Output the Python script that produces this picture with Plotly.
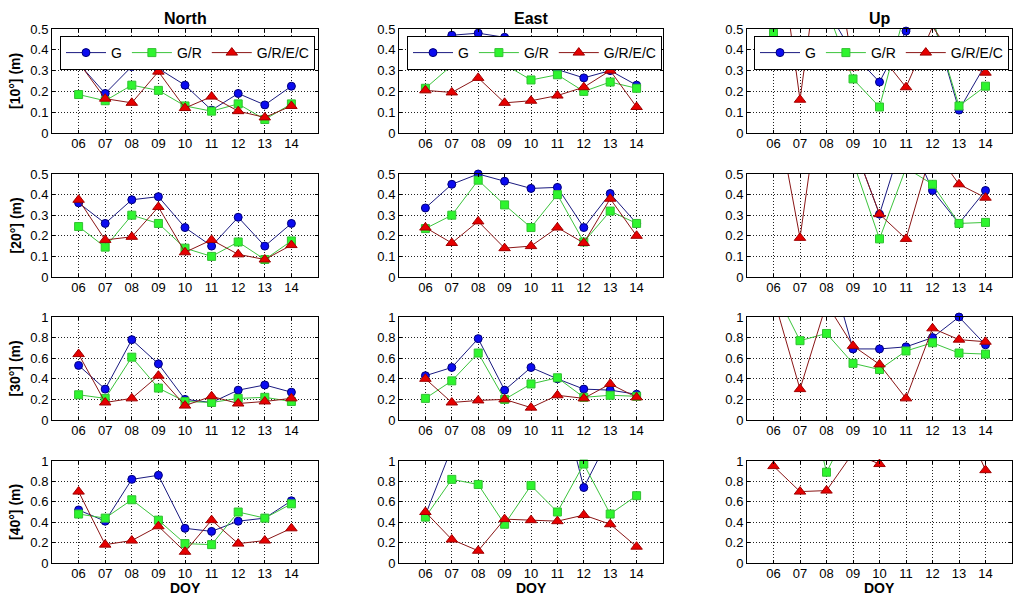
import plotly.graph_objects as go

# ---------------- data ----------------
doy = [6, 7, 8, 9, 10, 11, 12, 13, 14]
doy_labels = ["06", "07", "08", "09", "10", "11", "12", "13", "14"]
series_names = ["G", "G/R", "G/R/E/C"]
col_titles = ["North", "East", "Up"]
row_labels = ["[10°] (m)", "[20°] (m)", "[30°] (m)", "[40°] (m)"]
row_ymax = [0.5, 0.5, 1.0, 1.0]
row_dtick = [0.1, 0.1, 0.2, 0.2]

north_10_G = [0.335, 0.19, 0.32, 0.31, 0.23, 0.11, 0.19, 0.135, 0.225]
north_10_GR = [0.185, 0.155, 0.23, 0.205, 0.13, 0.105, 0.14, 0.065, 0.14]
north_10_GREC = [0.34, 0.165, 0.145, 0.295, 0.12, 0.175, 0.105, 0.075, 0.13]

east_10_G = [0.325, 0.47, 0.48, 0.46, 0.42, 0.305, 0.265, 0.30, 0.23]
east_10_GR = [0.215, 0.325, 0.42, 0.33, 0.255, 0.28, 0.20, 0.245, 0.215]
east_10_GREC = [0.205, 0.195, 0.265, 0.145, 0.155, 0.18, 0.22, 0.30, 0.125]

up_10_G = [0.6, 0.7, 0.6, 0.38, 0.245, 0.49, 0.55, 0.11, 0.33]
up_10_GR = [0.48, 0.75, 0.6, 0.26, 0.125, 0.6, 0.55, 0.13, 0.225]
up_10_GREC = [1.1, 0.16, 1.1, 0.315, 0.38, 0.22, 0.51, 0.335, 0.29]

north_20_G = [0.36, 0.26, 0.375, 0.39, 0.24, 0.15, 0.29, 0.15, 0.26]
north_20_GR = [0.245, 0.145, 0.30, 0.26, 0.14, 0.10, 0.17, 0.085, 0.175]
north_20_GREC = [0.375, 0.18, 0.195, 0.34, 0.12, 0.18, 0.11, 0.085, 0.155]

east_20_G = [0.335, 0.45, 0.50, 0.465, 0.43, 0.435, 0.24, 0.405, 0.26]
east_20_GR = [0.235, 0.30, 0.47, 0.35, 0.24, 0.40, 0.17, 0.32, 0.26]
east_20_GREC = [0.24, 0.165, 0.27, 0.14, 0.15, 0.24, 0.165, 0.38, 0.20]

up_20_G = [0.8, 0.9, 0.8, 0.65, 0.305, 0.715, 0.42, 0.26, 0.42]
up_20_GR = [0.8, 0.9, 0.8, 0.56, 0.185, 0.53, 0.45, 0.26, 0.265]
up_20_GREC = [0.88, 0.19, 1.1, 0.65, 0.305, 0.185, 0.63, 0.45, 0.385]

north_30_G = [0.53, 0.30, 0.78, 0.545, 0.20, 0.17, 0.29, 0.34, 0.27]
north_30_GR = [0.245, 0.21, 0.61, 0.31, 0.18, 0.17, 0.21, 0.22, 0.18]
north_30_GREC = [0.64, 0.17, 0.21, 0.43, 0.14, 0.23, 0.16, 0.18, 0.21]

east_30_G = [0.43, 0.51, 0.79, 0.29, 0.51, 0.40, 0.30, 0.29, 0.25]
east_30_GR = [0.21, 0.38, 0.65, 0.20, 0.35, 0.41, 0.22, 0.24, 0.23]
east_30_GREC = [0.40, 0.17, 0.19, 0.20, 0.12, 0.24, 0.21, 0.35, 0.22]

up_30_G = [1.3, 1.4, 1.6, 0.69, 0.69, 0.71, 0.80, 1.0, 0.73]
up_30_GR = [1.28, 0.77, 0.84, 0.55, 0.49, 0.67, 0.75, 0.65, 0.64]
up_30_GREC = [1.19, 0.30, 1.13, 0.72, 0.54, 0.21, 0.89, 0.78, 0.76]

north_40_G = [0.52, 0.41, 0.82, 0.86, 0.34, 0.31, 0.41, 0.44, 0.61]
north_40_GR = [0.48, 0.44, 0.62, 0.42, 0.19, 0.18, 0.50, 0.44, 0.58]
north_40_GREC = [0.70, 0.18, 0.22, 0.36, 0.11, 0.42, 0.19, 0.22, 0.34]

east_40_G = [0.47, 1.13, 1.3, 1.4, 1.5, 1.75, 0.74, 1.25, 1.2]
east_40_GR = [0.45, 0.82, 0.77, 0.38, 0.76, 0.50, 0.97, 0.48, 0.66]
east_40_GREC = [0.50, 0.23, 0.12, 0.43, 0.42, 0.41, 0.47, 0.38, 0.16]

up_40_G = [1.5, 1.3, 1.4, 1.6, 1.5, 1.7, 1.5, 1.4, 1.3]
up_40_GR = [1.5, 2.0, 0.89, 1.4, 1.5, 1.6, 1.5, 1.4, 1.3]
up_40_GREC = [0.95, 0.70, 0.71, 1.08, 0.97, 1.6, 1.4, 1.5, 0.91]

panels = [
    [(north_10_G, north_10_GR, north_10_GREC), (east_10_G, east_10_GR, east_10_GREC), (up_10_G, up_10_GR, up_10_GREC)],
    [(north_20_G, north_20_GR, north_20_GREC), (east_20_G, east_20_GR, east_20_GREC), (up_20_G, up_20_GR, up_20_GREC)],
    [(north_30_G, north_30_GR, north_30_GREC), (east_30_G, east_30_GR, east_30_GREC), (up_30_G, up_30_GR, up_30_GREC)],
    [(north_40_G, north_40_GR, north_40_GREC), (east_40_G, east_40_GR, east_40_GREC), (up_40_G, up_40_GR, up_40_GREC)],
]

# ---------------- layout geometry (screen pixels; the page body adds an 8px offset) ----------------
OFF = 8
W, H = 1023 - OFF, 605 - 2 * OFF
FONT = "Liberation Sans, Arial, sans-serif"
col_px = [(52, 318), (399, 663), (747, 1012)]
row_px = [(29, 133), (174, 277), (317, 420), (461, 563)]
legend_x_px = [60, 407, 754]
legend_y_px = 36


def fx(px):
    return (px - OFF) / W


def fy(py):
    return 1 - (py - OFF) / H


styles = [
    dict(line="#1a1a80", fill="#0b0bf0", edge="#00007a", symbol="circle", size=8),
    dict(line="#3cc43c", fill="#2ef52e", edge="#33c033", symbol="square", size=8),
    dict(line="#8a1616", fill="#e60000", edge="#a00000", symbol="triangle-up", size=10),
]

fig = go.Figure()
legend_ids = ["legend", "legend2", "legend3"]

for r in range(4):
    for c in range(3):
        k = r * 3 + c + 1
        xa = "x" if k == 1 else f"x{k}"
        ya = "y" if k == 1 else f"y{k}"
        for s, vals in enumerate(panels[r][c]):
            st = styles[s]
            fig.add_trace(go.Scatter(
                x=doy, y=vals, mode="lines+markers", name=series_names[s],
                xaxis=xa, yaxis=ya, cliponaxis=False,
                line=dict(color=st["line"], width=1),
                marker=dict(symbol=st["symbol"], size=st["size"], color=st["fill"],
                            line=dict(color=st["edge"], width=1)),
                showlegend=(r == 0), legend=legend_ids[c] if r == 0 else None,
                hoverinfo="skip",
            ))

layout = dict(
    width=W, height=H, margin=dict(l=0, r=0, t=0, b=0, autoexpand=False),
    paper_bgcolor="white", plot_bgcolor="white",
    font=dict(family=FONT, size=13, color="black"),
    showlegend=True,
)

for r in range(4):
    for c in range(3):
        k = r * 3 + c + 1
        x0, x1 = col_px[c]
        y0, y1 = row_px[r]
        xkey = "xaxis" if k == 1 else f"xaxis{k}"
        ykey = "yaxis" if k == 1 else f"yaxis{k}"
        common = dict(
            showline=True, linecolor="black", linewidth=1, mirror="ticks",
            ticks="inside", ticklen=3, tickcolor="black",
            showgrid=True, gridcolor="#222222", griddash="1px,2px", gridwidth=1,
            zeroline=False, fixedrange=True,
            tickfont=dict(family=FONT, size=13, color="black"),
        )
        layout[xkey] = dict(common, domain=[fx(x0), fx(x1)], anchor=("y" if k == 1 else f"y{k}"),
                            range=[5, 15], tickmode="array", tickvals=doy, ticktext=doy_labels,
                            ticklabelstandoff=-2)
        layout[ykey] = dict(common, domain=[fy(y1), fy(y0)], anchor=("x" if k == 1 else f"x{k}"),
                            range=[0, row_ymax[r]], tickmode="linear", tick0=0, dtick=row_dtick[r])

for c in range(3):
    layout[legend_ids[c]] = dict(
        x=fx(legend_x_px[c]), y=fy(legend_y_px), xanchor="left", yanchor="top",
        orientation="h", bgcolor="white", bordercolor="black", borderwidth=1,
        font=dict(family=FONT, size=14, color="black"),
        itemwidth=40, tracegroupgap=0,
    )

annotations = []
for c in range(3):
    x0, x1 = col_px[c]
    xc = fx((x0 + x1) / 2)
    annotations.append(dict(text="<b>" + col_titles[c] + "</b>", x=xc, y=1.0,
                            xref="paper", yref="paper", showarrow=False,
                            xanchor="center", yanchor="top",
                            font=dict(family=FONT, size=16, color="black")))
    annotations.append(dict(text="<b>DOY</b>", x=xc, y=0.0,
                            xref="paper", yref="paper", showarrow=False,
                            xanchor="center", yanchor="bottom", borderpad=0,
                            font=dict(family=FONT, size=14, color="black")))
for r in range(4):
    y0, y1 = row_px[r]
    annotations.append(dict(text="<b>" + row_labels[r] + "</b>", x=fx(15), y=fy((y0 + y1) / 2),
                            xref="paper", yref="paper", showarrow=False, textangle=-90,
                            xanchor="center", yanchor="middle",
                            font=dict(family=FONT, size=14, color="black")))
layout["annotations"] = annotations

fig.update_layout(**layout)
fig.write_html("out.html")
